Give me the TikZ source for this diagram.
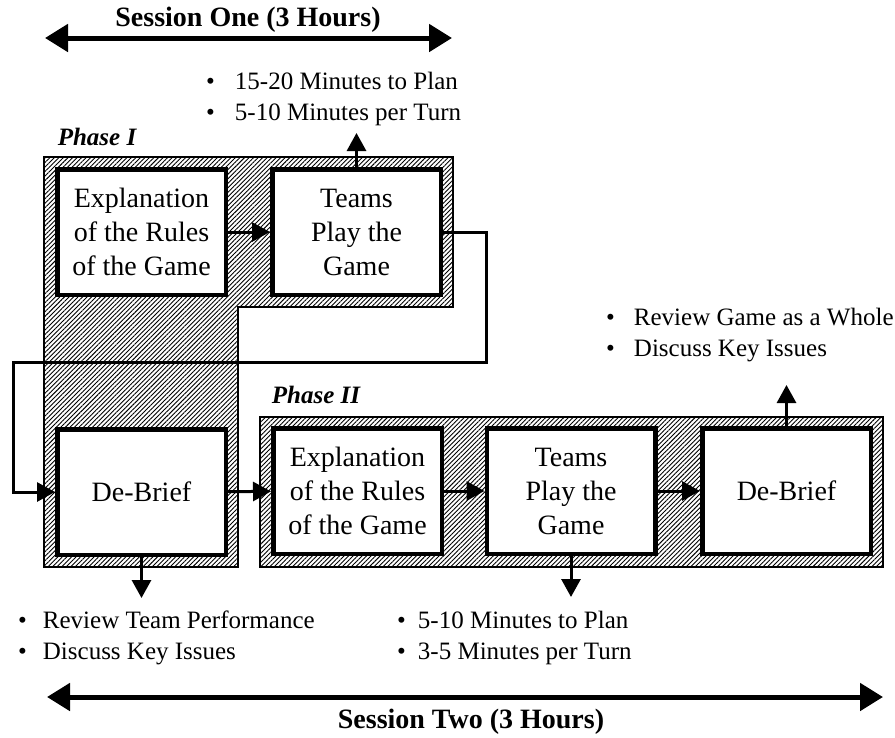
\documentclass[tikz,border=0pt]{standalone}
\usepackage{fontspec}
\setmainfont{Liberation Serif}
\usetikzlibrary{arrows.meta,patterns.meta}
\begin{document}
\begin{tikzpicture}[x=1pt,y=-1pt,
  stage/.style={draw, line width=4.5pt, fill=white, minimum width=168.5pt, minimum height=125.5pt, inner sep=0pt, align=center, font=\fontsize{28}{34}\selectfont},
  hatch/.style={draw, line width=1.5pt, pattern={Lines[angle=45,distance=3.2pt,line width=0.9pt]}},
  flow/.style={line width=3pt, -{Triangle[length=18pt,width=19pt]}},
  loopline/.style={line width=3pt, -{Triangle[length=18pt,width=19pt]}},
  span/.style={line width=5pt, {Triangle[length=23pt,width=27pt]}-{Triangle[length=23pt,width=27pt]}},
  notes/.style={inner sep=0pt, anchor=west, font=\fontsize{25}{31}\selectfont},
  phase/.style={inner sep=0pt, font=\fontsize{25}{30}\selectfont\bfseries\itshape},
  session/.style={inner sep=0pt, font=\fontsize{28}{34}\selectfont\bfseries}]

\useasboundingbox (0,0) rectangle (895,737);

% hatched phase areas
\draw[hatch] (44,157) -- (453,157) -- (453,307) -- (238,307) -- (238,567) -- (44,567) -- cycle;
\draw[hatch] (260,417) rectangle (883,567);

% stages
\node[stage] (B1) at (141.5,232) {Explanation\\of the Rules\\of the Game};
\node[stage] (B2) at (356.5,232) {Teams\\Play the\\Game};
\node[stage] (D1) at (141.5,492) {De-Brief};
\node[stage] (E2) at (357.5,491) {Explanation\\of the Rules\\of the Game};
\node[stage] (T2) at (571,491) {Teams\\Play the\\Game};
\node[stage] (D2) at (786.5,491) {De-Brief};

% phase labels
\node[phase] (P1) at (97,137) {Phase I};
\node[phase] (P2) at (316,395) {Phase II};

% flow arrows
\draw[flow] (B1) -- (B2);
\draw[flow] (D1) -- (E2);
\draw[flow] (E2) -- (T2);
\draw[flow] (T2) -- (D2);

% loop from Phase I to De-Brief
\coordinate (c1) at (486,362);
\coordinate (c2) at (13,362);
\draw[loopline] (B2.east) -| (c1) -- (c2) |- (D1.west);

% note arrows
\coordinate (u1) at (356.5,133);
\coordinate (u2) at (786.5,385);
\coordinate (d1) at (141.5,598);
\coordinate (d2) at (571,597);
\draw[flow] (B2.north) -- (u1);
\draw[flow] (D2.north) -- (u2);
\draw[flow] (D1.south) -- (d1);
\draw[flow] (T2.south) -- (d2);

% notes
\node[notes] (N1) at (206,99) {\begin{tabular}{@{}l@{\hspace{20pt}}l@{}}\textbullet & 15-20 Minutes to Plan\\ \textbullet & 5-10 Minutes per Turn\end{tabular}};
\node[notes] (N2) at (606,335) {\begin{tabular}{@{}l@{\hspace{19pt}}l@{}}\textbullet & Review Game as a Whole\\ \textbullet & Discuss Key Issues\end{tabular}};
\node[notes] (N3) at (18,638) {\begin{tabular}{@{}l@{\hspace{16pt}}l@{}}\textbullet & Review Team Performance\\ \textbullet & Discuss Key Issues\end{tabular}};
\node[notes] (N4) at (397,638) {\begin{tabular}{@{}l@{\hspace{12pt}}l@{}}\textbullet & 5-10 Minutes to Plan\\ \textbullet & 3-5 Minutes per Turn\end{tabular}};

% sessions
\node[session] (S1) at (248,20) {Session One (3 Hours)};
\coordinate (s1a) at (45,38);
\coordinate (s1b) at (452,38);
\draw[span] (s1a) -- (s1b);
\node[session] (S2) at (471,722) {Session Two (3 Hours)};
\coordinate (s2a) at (47,697);
\coordinate (s2b) at (883,697);
\draw[span] (s2a) -- (s2b);
\end{tikzpicture}
\end{document}
